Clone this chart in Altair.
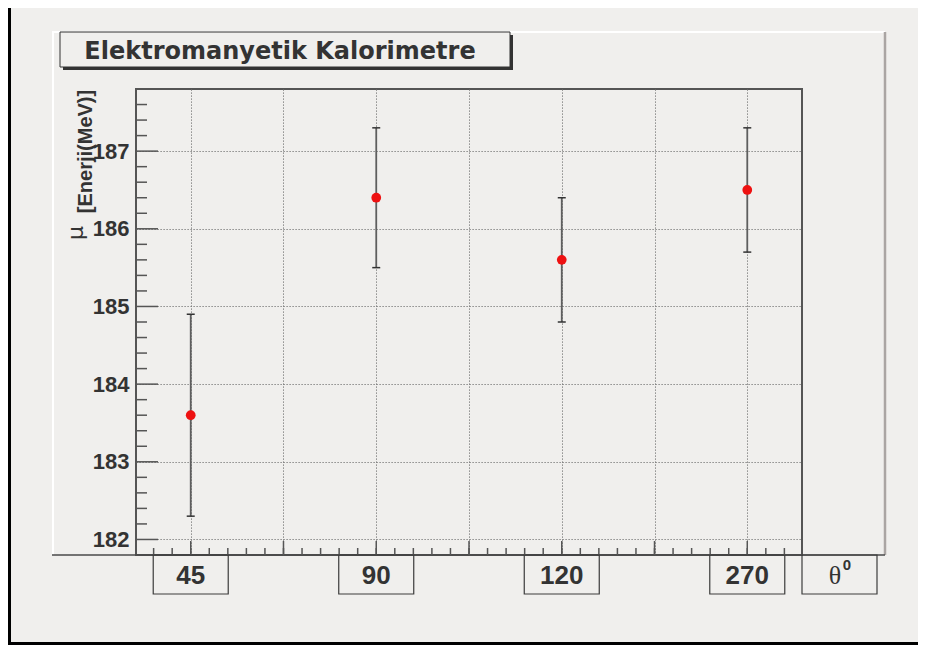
import altair as alt
import pandas as pd

# ---- data ----
angles = ["45", "90", "120", "270"]          # theta (degrees) categories
mu = [183.6, 186.4, 185.6, 186.5]           # mean energy (MeV)
err = [1.3, 0.9, 0.8, 0.8]                  # error bar half-length

y_major = [182, 183, 184, 185, 186, 187]
y_minor = [round(182 + 0.2 * i, 1) for i in range(29) if i % 5]
x_major = [1, 1.5, 2, 2.5, 3, 3.5, 4]
x_minor = [round(0.8 + 0.1 * i, 1) for i in range(35)]

BG = "#f0efed"
INK = "#333333"
AX = "#555555"

pts = pd.DataFrame({
    "idx": list(range(1, len(angles) + 1)),
    "angle": angles,
    "v": mu,
    "lo": [m - e for m, e in zip(mu, err)],
    "hi": [m + e for m, e in zip(mu, err)],
})
one = pd.DataFrame({"a": [0]})

xs = alt.Scale(domain=[0.705, 4.295], nice=False, zero=False)
ys = alt.Scale(domain=[181.8, 187.8], nice=False, zero=False)
grid_kw = dict(gridColor="#707070", gridDash=[1.2, 1.8], gridWidth=1)
xaxis = alt.Axis(values=x_major, grid=True, labels=False, ticks=False,
                 domain=False, title=None, **grid_kw)
yaxis = alt.Axis(values=y_major, grid=True, ticks=False, tickSize=0,
                 domain=False, title=None, labelPadding=7,
                 labelFont="Liberation Sans", labelFontWeight="bold",
                 labelFontSize=22, labelColor="#333333", **grid_kw)


def X(f="idx"):
    return alt.X(f"{f}:Q", scale=xs, axis=xaxis)


def Y(f):
    return alt.Y(f"{f}:Q", scale=ys, axis=yaxis)


def hrule(y, x1, x2, color, w):
    return alt.Chart(one).mark_rule(color=color, strokeWidth=w).encode(
        y=alt.value(y), x=alt.value(x1), x2=alt.value(x2))


def vrule(x, y1, y2, color, w):
    return alt.Chart(one).mark_rule(color=color, strokeWidth=w).encode(
        x=alt.value(x), y=alt.value(y1), y2=alt.value(y2))


# canvas & pad decorations
canvas = [
    vrule(-126.5, -81, 556, "#000000", 3),
    hrule(554.5, -128, 782, "#000000", 3),
    hrule(-57, -84, 749, "#ffffff", 2),
    vrule(-83, -57, 466, "#ffffff", 2),
    vrule(749, -57, 466, "#aaa5a3", 2.5),
    hrule(466, -84, 749, "#4a4a4a", 1.5),
]

# title box with shadow
shadow = alt.Chart(one).mark_rect(color=INK).encode(
    x=alt.value(-73), x2=alt.value(377), y=alt.value(-54), y2=alt.value(-19))
tbox = alt.Chart(one).mark_rect(fill=BG, stroke=INK, strokeWidth=1).encode(
    x=alt.value(-76), x2=alt.value(374), y=alt.value(-57), y2=alt.value(-22))
ttext = alt.Chart(one).mark_text(
    text="Elektromanyetik Kalorimetre", font="DejaVu Sans", fontWeight="bold",
    fontSize=24, color=INK, align="center", baseline="alphabetic").encode(
    x=alt.value(144), y=alt.value(-30.5))

# axis ticks (inward, ROOT style)
ymaj = alt.Chart(pd.DataFrame({"v": y_major})).mark_rule(color=AX, strokeWidth=1.5).encode(
    y=Y("v"), x=alt.value(0), x2=alt.value(22))
ymin = alt.Chart(pd.DataFrame({"v": y_minor})).mark_rule(color=AX, strokeWidth=1.5).encode(
    y=Y("v"), x=alt.value(0), x2=alt.value(11))
xmaj = alt.Chart(pd.DataFrame({"idx": x_major})).mark_rule(color=AX, strokeWidth=1.5).encode(
    x=X(), y=alt.value(452), y2=alt.value(466))
xmin = alt.Chart(pd.DataFrame({"idx": x_minor})).mark_rule(color=AX, strokeWidth=1.5).encode(
    x=X(), y=alt.value(459), y2=alt.value(466))

# error bars & points
base = alt.Chart(pts)
bars = base.mark_rule(color="#5e5e5e", strokeWidth=1.8).encode(x=X(), y=Y("lo"), y2="hi:Q")
cap_lo = base.mark_tick(orient="horizontal", size=8, thickness=1.5, color=INK, opacity=1).encode(
    x=X(), y=Y("lo"))
cap_hi = base.mark_tick(orient="horizontal", size=8, thickness=1.5, color=INK, opacity=1).encode(
    x=X(), y=Y("hi"))
dots = base.mark_circle(size=95, color="#ee1111", opacity=1).encode(x=X(), y=Y("v"))

# label boxes under x axis
BOX = "M-1,-0.52H1V0.52H-1Z"
boxes = base.mark_point(shape=BOX, size=5625, filled=False, color="#3c3c3c",
                        strokeWidth=1.2, opacity=1).encode(x=X(), y=alt.value(485.5))
labels = base.mark_text(font="Liberation Sans", fontWeight="bold", fontSize=26,
                        color=INK, align="center", baseline="alphabetic").encode(
    x=X(), y=alt.value(495), text="angle:N")
tbox2 = alt.Chart(one).mark_point(shape=BOX, size=5625, filled=False, color="#3c3c3c",
                                  strokeWidth=1.2, opacity=1).encode(
    x=alt.value(703.5), y=alt.value(485.5))
theta = alt.Chart(one).mark_text(text="θ", font="Liberation Serif", fontSize=26,
                                 color=INK, align="center", baseline="alphabetic").encode(
    x=alt.value(699), y=alt.value(495))
sup = alt.Chart(one).mark_text(text="0", font="Liberation Sans", fontWeight="bold",
                               fontSize=15, color=INK, align="center",
                               baseline="alphabetic").encode(
    x=alt.value(711), y=alt.value(481))

# y axis title
ytitle = alt.Chart(one).mark_text(text="[Enerji(MeV)]", font="Liberation Sans",
                                  fontWeight="bold", fontSize=20, color=INK, angle=270,
                                  align="center", baseline="alphabetic").encode(
    x=alt.value(-44), y=alt.value(62.5))
ymu = alt.Chart(one).mark_text(text="μ", font="DejaVu Sans", fontSize=22,
                               color=INK, angle=270, align="center",
                               baseline="alphabetic").encode(
    x=alt.value(-53), y=alt.value(144))

chart = alt.layer(
    *canvas, shadow, tbox, ttext,
    ymaj, ymin, xmaj, xmin,
    bars, cap_lo, cap_hi, dots,
    boxes, labels, tbox2, theta, sup,
    ytitle, ymu,
).properties(
    width=666, height=466,
    autosize=alt.AutoSizeParams(type="none"),
    padding={"left": 128, "top": 81, "right": 116, "bottom": 90},
).configure(background=BG).configure_view(stroke=AX, strokeWidth=2)

chart.save("out.html", embed_options={"renderer": "svg", "actions": False})
